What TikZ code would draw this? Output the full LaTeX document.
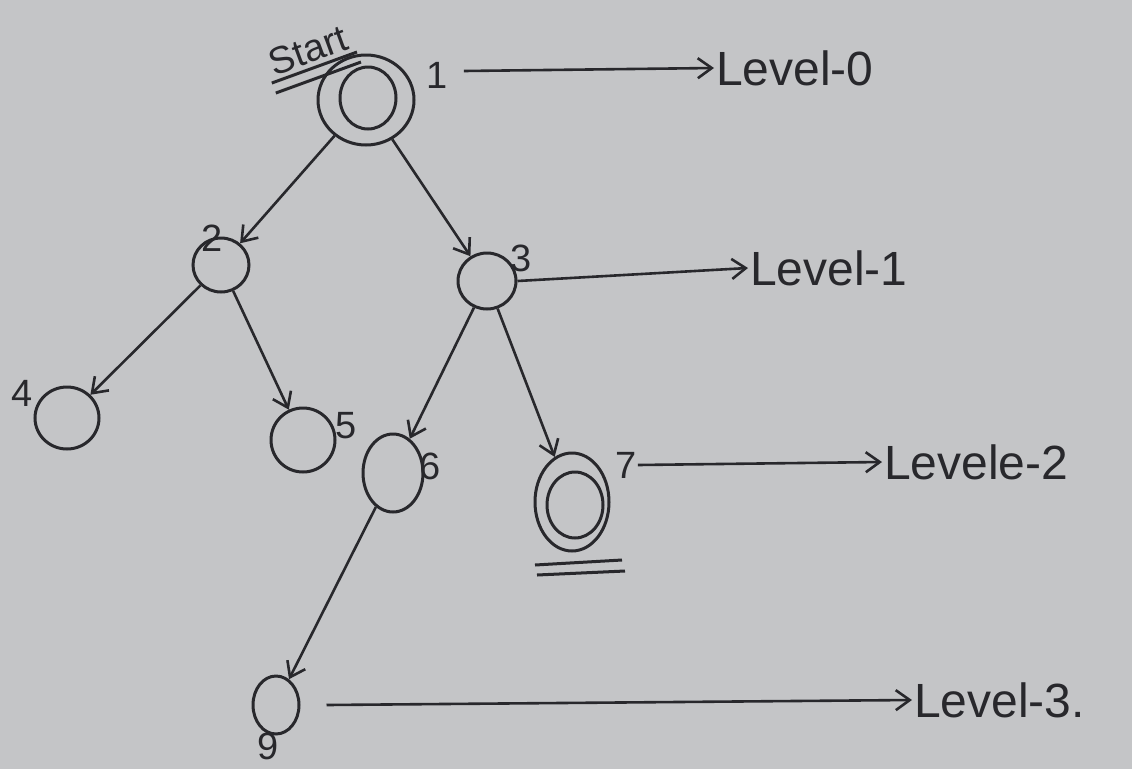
\documentclass[tikz,border=0pt]{standalone}
\usepackage{fontspec}
\setmainfont{Liberation Sans}
\usetikzlibrary{shapes.geometric,arrows.meta}
\definecolor{paper}{RGB}{196,197,199}
\definecolor{ink}{RGB}{40,40,44}
\tikzset{
  state/.style={draw=ink, line width=3pt, ellipse, inner sep=0pt},
  tag/.style={text=ink, font=\fontsize{38}{42}\selectfont, inner sep=1pt},
  lvl/.style={text=ink, font=\fontsize{48}{52}\selectfont, inner sep=2pt, anchor=west},
  edge/.style={draw=ink, line width=2.6pt, -{Straight Barb[length=14pt,width=20pt]}}
}
\begin{document}
\begin{tikzpicture}[x=1pt, y=-1pt]
                \fill[paper] (0,0) rectangle (1132,769);
                \useasboundingbox (0,0) rectangle (1132,769);

                % states
                \node[state, minimum width=96pt, minimum height=90pt] (n1) at (366,100) {};
                \node[state, minimum width=56pt, minimum height=62pt] (n1i) at (368,98) {};
                \node[state, minimum width=56pt, minimum height=54pt] (n2) at (221,265) {};
                \node[state, minimum width=58pt, minimum height=56pt] (n3) at (487,281) {};
                \node[state, minimum width=64pt, minimum height=62pt] (n4) at (67,418) {};
                \node[state, minimum width=64pt, minimum height=64pt] (n5) at (303,440) {};
                \node[state, minimum width=60pt, minimum height=78pt] (n6) at (393,473) {};
                \node[state, minimum width=74pt, minimum height=98pt] (n7) at (572,502) {};
                \node[state, minimum width=56pt, minimum height=66pt] (n7i) at (575,505) {};
                \node[state, minimum width=46pt, minimum height=58pt] (n9) at (276,705) {};

                % labels
                \node[tag, rotate=20, inner sep=5pt] (start) at (308,50) {Start};
                \draw[ink, line width=3pt] (start.south west) -- (start.south east);
                \draw[ink, line width=3pt] ([shift={(4,10)}]start.south west) -- ([shift={(4,10)}]start.south east);
                \node[tag] (t1) at (437,75) {1};
                \node[tag] (t2) at (212,238) {2};
                \node[tag] (t3) at (521,258) {3};
                \node[tag] (t4) at (22,393) {4};
                \node[tag] (t5) at (346,426) {5};
                \node[tag] (t6) at (430,466) {6};
                \node[tag] (t7) at (626,465) {7};
                \node[tag] (t9) at (268,746) {9};
                \draw[ink, line width=3pt] (535,565) -- (622,560);
                \draw[ink, line width=3pt] (537,575) -- (625,571);

                % levels
                \node[lvl] (lev0) at (714,68) {Level-0};
                \node[lvl] (lev1) at (748,268) {Level-1};
                \node[lvl] (lev2) at (882,462) {Levele-2};
                \node[lvl] (lev3) at (912,700) {Level-3.};

                % tree edges
                \draw[edge] (n1) -- (n2);
                \draw[edge] (n1) -- (n3);
                \draw[edge] (n2) -- (n4);
                \draw[edge] (n2) -- (n5);
                \draw[edge] (n3) -- (n6);
                \draw[edge] (n3) -- (n7);
                \draw[edge] (n6) -- (n9);

                % level arrows
                \draw[edge] (t1.east) ++(15,-4) coordinate (a0) (a0) -- (lev0.west);
                \draw[edge] (n3.east) -- (lev1.west);
                \draw[edge] (t7.east) -- (lev2.west);
                \draw[edge] ([xshift=26pt]n9.east) -- (lev3.west);
\end{tikzpicture}
\end{document}
